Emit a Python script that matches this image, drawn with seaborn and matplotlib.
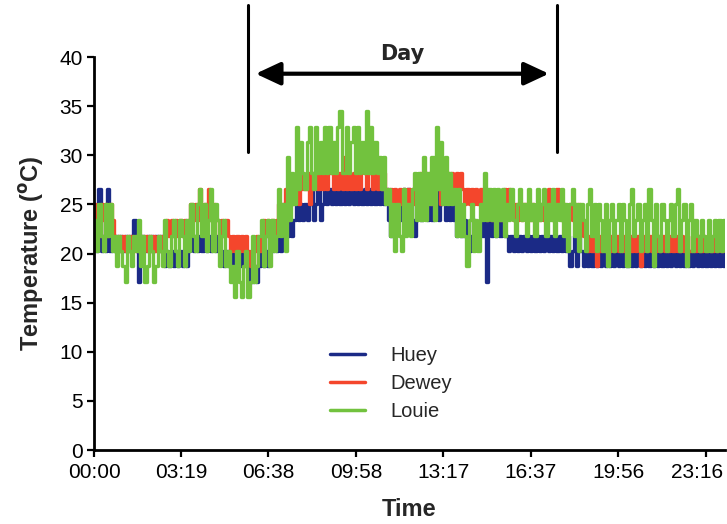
import numpy as np
import pandas as pd
import matplotlib
matplotlib.use("Agg")
import matplotlib.pyplot as plt
import matplotlib.transforms as mtransforms
import seaborn as sns

# ---- data: readings every 5 minutes (°C), one row = 2 hours ----
huey = [
    21.8, 20.3, 26.6, 20.3, 21.8, 20.3, 26.6, 20.3, 21.8, 20.3, 21.8, 20.3, 21.8, 20.3, 21.8, 20.3, 21.8, 20.3, 23.4, 20.3, 17.1, 20.3, 21.8, 20.3,
    21.8, 20.3, 21.8, 20.3, 21.8, 20.3, 21.8, 20.3, 18.7, 20.3, 18.7, 20.3, 18.7, 20.3, 18.7, 20.3, 18.7, 20.3, 18.7, 20.3, 21.8, 20.3, 21.8, 20.3,
    21.8, 20.3, 21.8, 20.3, 21.8, 20.3, 21.8, 20.3, 21.8, 20.3, 20.3, 18.7, 20.3, 18.7, 20.3, 18.7, 20.3, 18.7, 20.3, 18.7, 20.3, 18.7, 18.7, 17.1,
    17.1, 18.7, 17.1, 18.7, 20.3, 18.7, 20.3, 18.7, 21.8, 20.3, 21.8, 20.3, 21.8, 20.3, 21.8, 23.4, 21.8, 23.4, 21.8, 23.4, 25.0, 23.4, 25.0, 23.4,
    25.0, 23.4, 25.0, 26.6, 23.4, 25.0, 26.6, 23.4, 25.0, 26.6, 25.0, 26.6, 25.0, 26.6, 25.0, 26.6, 25.0, 26.6, 25.0, 26.6, 25.0, 26.6, 25.0, 26.6,
    25.0, 26.6, 25.0, 26.6, 25.0, 26.6, 25.0, 26.6, 25.0, 26.6, 25.0, 26.6, 25.0, 26.6, 23.4, 21.8, 23.4, 21.8, 25.0, 23.4, 25.0, 26.6, 25.0, 26.6,
    25.0, 23.4, 21.8, 23.4, 25.0, 23.4, 25.0, 26.6, 23.4, 26.6, 23.4, 25.0, 26.6, 23.4, 25.0, 26.6, 23.4, 25.0, 23.4, 25.0, 23.4, 21.8, 23.4, 21.8,
    21.8, 23.4, 21.8, 20.3, 21.8, 23.4, 21.8, 21.8, 23.4, 21.8, 23.4, 17.1, 23.4, 21.8, 23.4, 21.8, 23.4, 21.8, 23.4, 21.8, 21.8, 20.3, 21.8, 20.3,
    21.8, 20.3, 21.8, 20.3, 21.8, 20.3, 21.8, 20.3, 21.8, 20.3, 21.8, 20.3, 21.8, 20.3, 21.8, 20.3, 21.8, 20.3, 21.8, 20.3, 21.8, 20.3, 21.8, 20.3,
    21.8, 18.7, 20.3, 21.8, 18.7, 21.8, 20.3, 18.7, 20.3, 18.7, 20.3, 18.7, 20.3, 18.7, 20.3, 18.7, 20.3, 18.7, 20.3, 18.7, 20.3, 18.7, 20.3, 18.7,
    20.3, 18.7, 20.3, 18.7, 20.3, 18.7, 20.3, 18.7, 20.3, 18.7, 20.3, 18.7, 20.3, 18.7, 20.3, 18.7, 20.3, 18.7, 20.3, 18.7, 20.3, 18.7, 20.3, 18.7,
    20.3, 18.7, 20.3, 18.7, 20.3, 18.7, 20.3, 18.7, 20.3, 18.7, 20.3, 18.7, 20.3, 18.7, 20.3, 18.7, 20.3, 18.7, 20.3, 18.7, 20.3, 18.7, 20.3, 18.7,
]
dewey = [
    25.0, 23.4, 21.8, 25.0, 23.4, 25.0, 21.8, 25.0, 23.4, 21.8, 20.3, 21.8, 20.3, 21.8, 20.3, 21.8, 20.3, 21.8, 20.3, 21.8, 20.3, 21.8, 20.3, 21.8,
    20.3, 21.8, 20.3, 21.8, 20.3, 21.8, 20.3, 21.8, 21.8, 23.4, 21.8, 23.4, 21.8, 23.4, 21.8, 23.4, 21.8, 23.4, 21.8, 23.4, 25.0, 23.4, 25.0, 23.4,
    26.6, 23.4, 25.0, 23.4, 26.6, 23.4, 25.0, 23.4, 23.4, 21.8, 23.4, 21.8, 23.4, 21.8, 20.3, 21.8, 20.3, 21.8, 20.3, 21.8, 20.3, 21.8, 20.3, 18.7,
    18.7, 20.3, 21.8, 20.3, 21.8, 23.4, 21.8, 23.4, 21.8, 23.4, 21.8, 23.4, 25.0, 23.4, 25.0, 26.6, 23.4, 26.6, 25.0, 26.6, 28.2, 25.0, 28.2, 26.6,
    26.6, 28.2, 25.0, 28.2, 26.6, 28.2, 26.6, 29.8, 26.6, 28.2, 26.6, 28.2, 29.8, 26.6, 28.2, 26.6, 28.2, 26.6, 29.8, 26.6, 28.2, 26.6, 28.2, 26.6,
    28.2, 26.6, 29.8, 28.2, 26.6, 28.2, 29.8, 26.6, 28.2, 26.6, 28.2, 26.6, 28.2, 26.6, 25.0, 26.6, 25.0, 26.6, 25.0, 26.6, 25.0, 26.6, 25.0, 26.6,
    25.0, 26.6, 25.0, 26.6, 25.0, 28.2, 25.0, 28.2, 26.6, 28.2, 25.0, 28.2, 26.6, 28.2, 25.0, 28.2, 26.6, 28.2, 26.6, 28.2, 26.6, 28.2, 26.6, 28.2,
    26.6, 25.0, 26.6, 25.0, 26.6, 25.0, 26.6, 25.0, 26.6, 25.0, 25.0, 23.4, 25.0, 23.4, 25.0, 23.4, 25.0, 23.4, 25.0, 26.6, 25.0, 26.6, 25.0, 23.4,
    25.0, 23.4, 25.0, 23.4, 25.0, 23.4, 25.0, 23.4, 25.0, 23.4, 25.0, 23.4, 25.0, 23.4, 25.0, 26.6, 25.0, 23.4, 25.0, 26.6, 25.0, 23.4, 25.0, 23.4,
    23.4, 25.0, 23.4, 25.0, 23.4, 25.0, 23.4, 21.8, 21.8, 20.3, 21.8, 20.3, 21.8, 18.7, 21.8, 20.3, 21.8, 20.3, 21.8, 20.3, 21.8, 20.3, 21.8, 20.3,
    21.8, 20.3, 21.8, 20.3, 21.8, 20.3, 21.8, 20.3, 21.8, 18.7, 20.3, 21.8, 20.3, 21.8, 20.3, 21.8, 20.3, 21.8, 20.3, 21.8, 20.3, 21.8, 20.3, 21.8,
    20.3, 21.8, 20.3, 20.3, 21.8, 20.3, 21.8, 20.3, 20.3, 21.8, 20.3, 21.8, 20.3, 20.3, 21.8, 20.3, 21.8, 20.3, 20.3, 21.8, 20.3, 21.8, 20.3, 21.8,
]
louie = [
    23.4, 20.3, 25.0, 21.8, 20.3, 25.0, 21.8, 25.0, 20.3, 21.8, 18.7, 21.8, 20.3, 18.7, 17.1, 21.8, 20.3, 18.7, 21.8, 20.3, 23.4, 18.7, 21.8, 17.1,
    18.7, 21.8, 20.3, 17.1, 18.7, 21.8, 20.3, 18.7, 23.4, 20.3, 18.7, 21.8, 23.4, 20.3, 18.7, 23.4, 21.8, 18.7, 23.4, 20.3, 25.0, 21.8, 20.3, 25.0,
    26.6, 21.8, 25.0, 20.3, 23.4, 26.6, 20.3, 25.0, 23.4, 18.7, 21.8, 23.4, 18.7, 20.3, 17.1, 18.7, 15.6, 20.3, 17.1, 15.6, 18.7, 20.3, 15.6, 17.1,
    21.8, 17.1, 18.7, 21.8, 23.4, 18.7, 21.8, 23.4, 18.7, 23.4, 20.3, 21.8, 26.6, 21.8, 25.0, 20.3, 29.8, 23.4, 28.2, 25.0, 32.9, 26.6, 31.4, 28.2,
    26.6, 31.4, 32.9, 28.2, 26.6, 32.9, 28.2, 31.4, 28.2, 32.9, 28.2, 32.9, 28.2, 31.4, 28.2, 32.9, 34.5, 28.2, 28.2, 32.9, 28.2, 31.4, 32.9, 28.2,
    32.9, 28.2, 31.4, 28.2, 34.5, 28.2, 32.9, 28.2, 31.4, 28.2, 29.8, 26.6, 29.8, 25.0, 26.6, 21.8, 25.0, 20.3, 25.0, 21.8, 20.3, 26.6, 21.8, 25.0,
    21.8, 26.6, 28.2, 23.4, 28.2, 23.4, 29.8, 23.4, 28.2, 25.0, 29.8, 23.4, 32.9, 26.6, 31.4, 25.0, 29.8, 25.0, 28.2, 25.0, 26.6, 21.8, 26.6, 21.8,
    25.0, 21.8, 18.7, 23.4, 25.0, 20.3, 23.4, 20.3, 25.0, 23.4, 28.2, 23.4, 26.6, 23.4, 26.6, 21.8, 26.6, 23.4, 26.6, 21.8, 25.0, 23.4, 26.6, 23.4,
    21.8, 25.0, 26.6, 23.4, 25.0, 21.8, 26.6, 23.4, 25.0, 21.8, 26.6, 23.4, 25.0, 26.6, 21.8, 25.0, 23.4, 26.6, 21.8, 25.0, 23.4, 26.6, 21.8, 25.0,
    20.3, 25.0, 26.6, 21.8, 25.0, 20.3, 25.0, 23.4, 20.3, 25.0, 26.6, 21.8, 25.0, 20.3, 25.0, 23.4, 20.3, 25.0, 18.7, 23.4, 25.0, 20.3, 23.4, 25.0,
    20.3, 25.0, 23.4, 18.7, 25.0, 26.6, 21.8, 23.4, 25.0, 20.3, 23.4, 25.0, 20.3, 26.6, 23.4, 18.7, 25.0, 21.8, 20.3, 25.0, 23.4, 20.3, 23.4, 25.0,
    21.8, 25.0, 26.6, 20.3, 23.4, 25.0, 18.7, 23.4, 25.0, 20.3, 23.4, 21.8, 20.3, 23.4, 21.8, 20.3, 23.4, 20.3, 21.8, 23.4, 20.3, 23.4, 20.3, 23.4,
]
series_names = ["Huey", "Dewey", "Louie"]
colors = ["#1b2a86", "#f4462c", "#72c23e"]
tick_minutes = [0, 199, 398, 598, 797, 997, 1196, 1396]
tick_labels = ["00:00", "03:19", "06:38", "09:58", "13:17", "16:37", "19:56", "23:16"]
day_start, day_end = 351, 1056   # minutes
step = 5

frames = []
for name, vals in zip(series_names, [huey, dewey, louie]):
    v = list(vals) + [vals[-1]]
    t = np.arange(len(v)) * step
    frames.append(pd.DataFrame({"minute": t, "temp": v, "sensor": name}))
df = pd.concat(frames, ignore_index=True)

sns.set_style("ticks")
plt.rcParams["font.family"] = ["Liberation Sans", "DejaVu Sans"]

fig = plt.figure(figsize=(7.27, 5.24), dpi=100)
ax = fig.add_axes([0.1293, 0.1412, 0.868, 0.75])

sns.lineplot(data=df, x="minute", y="temp", hue="sensor", hue_order=series_names,
             palette=dict(zip(series_names, colors)), estimator=None,
             drawstyle="steps-post", linewidth=2.4, ax=ax)

ax.set_xlim(0, 1440)
ax.set_ylim(0, 40)
ax.set_yticks(range(0, 41, 5))
ax.set_xticks(tick_minutes)
ax.set_xticklabels(tick_labels)
ax.tick_params(axis="both", labelsize=15, width=1.6, length=5, direction="out",
               color="black", labelcolor="black")
ax.tick_params(axis="x", pad=4)
ax.tick_params(axis="y", pad=3)
last = ax.get_xticklabels()[-1]
last.set_transform(last.get_transform() +
                   mtransforms.ScaledTranslation(-6 / 72, 0, fig.dpi_scale_trans))
for s in ["top", "right"]:
    ax.spines[s].set_visible(False)
for s in ["left", "bottom"]:
    ax.spines[s].set_linewidth(2.0)
    ax.spines[s].set_color("black")

ax.set_xlabel("Time", fontsize=17, fontweight="bold", labelpad=12)
ax.set_ylabel(r"Temperature ($\mathbf{^{o}}$C)", fontsize=17, fontweight="bold", labelpad=10)

# Day annotation
for xm in (day_start, day_end):
    ax.plot([xm, xm], [30.3, 45.3], color="black", lw=2.2, clip_on=False)
ax.annotate("", xy=(day_start + 18, 38.3), xytext=(day_end - 18, 38.3),
            arrowprops=dict(arrowstyle="<|-|>,head_length=1.5,head_width=0.7",
                            color="black", lw=3, shrinkA=0, shrinkB=0),
            annotation_clip=False)
ax.text((day_start + day_end) / 2, 39.3, "Day", ha="center", va="bottom",
        fontsize=15, fontweight="bold", family="DejaVu Sans")

leg = ax.legend(loc="upper left", bbox_to_anchor=(0.345, 0.31), frameon=False,
                fontsize=14.5, handlelength=1.75, handletextpad=1.25, labelspacing=0.45)
for h in leg.get_lines():
    h.set_linewidth(2.5)

fig.savefig("out.png", dpi=100, facecolor="white")
